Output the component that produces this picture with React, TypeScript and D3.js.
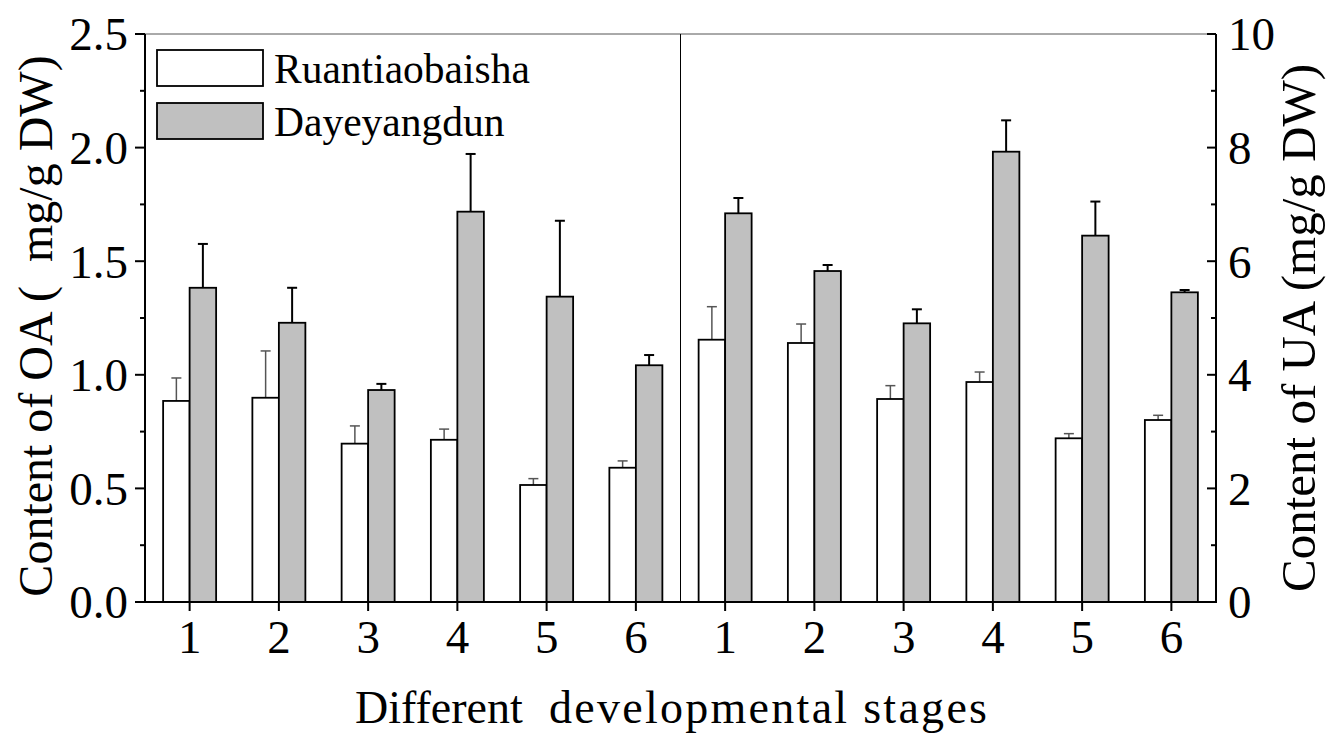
import React from 'react';
import * as d3 from 'd3';

const stages = ['1', '2', '3', '4', '5', '6'];
const seriesNames = ['Ruantiaobaisha', 'Dayeyangdun'];
const oaRuan = [0.885, 0.899, 0.697, 0.714, 0.515, 0.591];
const oaRuanErr = [0.101, 0.206, 0.078, 0.047, 0.028, 0.030];
const oaDaye = [1.383, 1.229, 0.933, 1.718, 1.344, 1.042];
const oaDayeErr = [0.193, 0.154, 0.027, 0.254, 0.334, 0.045];
const uaRuan = [4.618, 4.56, 3.574, 3.873, 2.882, 3.204];
const uaRuanErr = [0.581, 0.334, 0.235, 0.176, 0.082, 0.083];
const uaDaye = [6.843, 5.827, 4.906, 7.928, 6.45, 5.452];
const uaDayeErr = [0.27, 0.106, 0.247, 0.552, 0.6, 0.041];
const leftTicks = [0, 0.5, 1.0, 1.5, 2.0, 2.5];
const rightTicks = [0, 2, 4, 6, 8, 10];

const W = 1329, H = 734;
const L = 145, R = 1216, T = 34, B = 602;
const FONT = '"Liberation Serif", "Times New Roman", serif';

export default function App() {
  const keys = [...stages.map((s) => 'L' + s), ...stages.map((s) => 'R' + s)];
  const x = d3.scaleBand<string>().domain(keys).range([L, R]).paddingInner(0).paddingOuter(0);
  const yL = d3.scaleLinear().domain([0, 2.5]).range([B, T]);
  const yR = d3.scaleLinear().domain([0, 10]).range([B, T]);
  const bw = 26.5;
  const cx = (k: string) => (x(k) as number) + x.bandwidth() / 2;

  type Bar = { key: string; v: number; e: number; y: d3.ScaleLinear<number, number>; s: number };
  const bars: Bar[] = [];
  stages.forEach((s, i) => {
    bars.push({ key: 'L' + s, v: oaRuan[i], e: oaRuanErr[i], y: yL, s: 0 });
    bars.push({ key: 'L' + s, v: oaDaye[i], e: oaDayeErr[i], y: yL, s: 1 });
    bars.push({ key: 'R' + s, v: uaRuan[i], e: uaRuanErr[i], y: yR, s: 0 });
    bars.push({ key: 'R' + s, v: uaDaye[i], e: uaDayeErr[i], y: yR, s: 1 });
  });

  const leftMinor = d3.range(0.25, 2.5, 0.5);
  const rightMinor = d3.range(1, 10, 2);
  const divX = (x('R1') as number);

  return (
    <svg width={W} height={H} style={{ position: 'absolute', left: 0, top: 0 }} fontFamily={FONT}>
      <rect width={W} height={H} fill="#fff" />
      <line x1={L} x2={R} y1={T} y2={T} stroke="#555" strokeWidth={1} />
      <line x1={divX} x2={divX} y1={T} y2={B} stroke="#000" strokeWidth={1} />
      {bars.map((b, i) => {
        const c = cx(b.key);
        const x0 = b.s === 0 ? c - bw : c;
        const yt = b.y(b.v);
        const ye = b.y(b.v + b.e);
        const xm = x0 + bw / 2;
        const ec = b.s === 0 ? '#555' : '#000';
        return (
          <g key={i}>
            <line x1={xm} x2={xm} y1={yt} y2={ye} stroke={ec} strokeWidth={b.s === 0 ? 1.5 : 2} />
            <line x1={xm - 5} x2={xm + 5} y1={ye} y2={ye} stroke={ec} strokeWidth={b.s === 0 ? 1.5 : 2} />
            <rect x={x0} y={yt} width={bw} height={B - yt} fill={b.s === 0 ? '#fff' : '#c0c0c0'} stroke="#000" strokeWidth={1.8} />
          </g>
        );
      })}
      <line x1={L} x2={L} y1={T} y2={B} stroke="#000" strokeWidth={2} />
      <line x1={R} x2={R} y1={T} y2={B} stroke="#000" strokeWidth={2} />
      <line x1={L - 10} x2={R + 1} y1={B} y2={B} stroke="#000" strokeWidth={2} />
      {leftTicks.map((t) => (
        <g key={'lt' + t}>
          <line x1={L - 10} x2={L} y1={yL(t)} y2={yL(t)} stroke="#000" strokeWidth={2} />
          <text x={L - 17} y={yL(t)} dy="0.35em" textAnchor="end" fontSize={47}>{t.toFixed(1)}</text>
        </g>
      ))}
      {leftMinor.map((t) => (
        <line key={'lm' + t} x1={L - 5} x2={L} y1={yL(t)} y2={yL(t)} stroke="#000" strokeWidth={2} />
      ))}
      {rightTicks.map((t) => (
        <g key={'rt' + t}>
          <line x1={R - 9} x2={R} y1={yR(t)} y2={yR(t)} stroke="#000" strokeWidth={2} />
          <text x={R + 12} y={yR(t)} dy="0.35em" textAnchor="start" fontSize={47}>{t}</text>
        </g>
      ))}
      {rightMinor.map((t) => (
        <line key={'rm' + t} x1={R - 5} x2={R} y1={yR(t)} y2={yR(t)} stroke="#000" strokeWidth={2} />
      ))}
      {keys.map((k, i) => (
        <g key={'xt' + k}>
          <line x1={cx(k)} x2={cx(k)} y1={B} y2={B + 9} stroke="#000" strokeWidth={2} />
          <text x={cx(k)} y={653} textAnchor="middle" fontSize={47}>{stages[i % 6]}</text>
        </g>
      ))}
      <text x={355} y={723} textAnchor="start" fontSize={46}>Different</text>
      <text x={549} y={723} textAnchor="start" fontSize={46} textLength={438} lengthAdjust="spacing">developmental stages</text>
      <text transform={`translate(52, 326) rotate(-90)`} textAnchor="middle" fontSize={48} style={{ whiteSpace: 'pre' }}>{'Content of OA (  mg/g DW)'}</text>
      <text transform={`translate(1315, 328) rotate(-90)`} textAnchor="middle" fontSize={49}>{'Content of UA (mg/g DW)'}</text>
      {seriesNames.map((n, i) => (
        <g key={n}>
          <rect x={157} y={50 + i * 53} width={106} height={36} fill={i === 0 ? '#fff' : '#c0c0c0'} stroke="#000" strokeWidth={1.8} />
          <text x={274} y={68 + i * 53} dy="0.35em" fontSize={41.5}>{n}</text>
        </g>
      ))}
    </svg>
  );
}
